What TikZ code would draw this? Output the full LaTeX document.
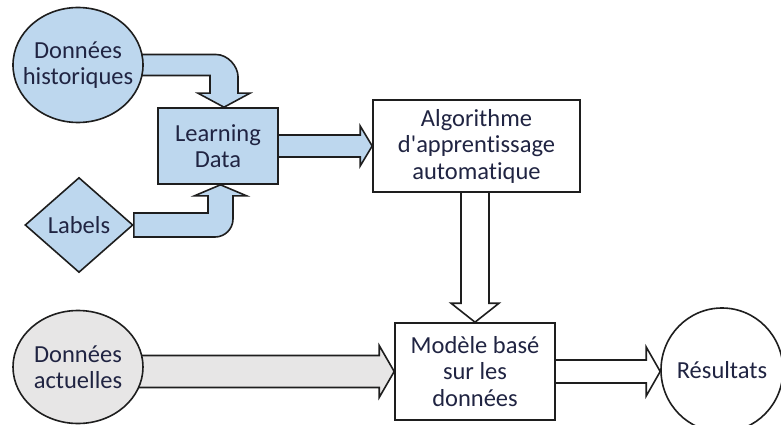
\documentclass[tikz,border=0pt]{standalone}
\usepackage{fontspec}
\setmainfont{Carlito}[Ligatures={CommonOff,TeXOff}]
\usetikzlibrary{shapes.geometric,calc,backgrounds}

\definecolor{blueF}{RGB}{189,215,238}
\definecolor{grayF}{RGB}{231,230,230}
\definecolor{lineC}{RGB}{30,30,30}
\definecolor{textC}{RGB}{32,36,66}

\tikzset{
  outline/.style={draw=lineC, line width=1.6pt},
  txt/.style={font=\fontsize{24.5}{26.5}\selectfont, text=textC, align=center},
  boxnode/.style={outline, txt, rectangle, inner sep=0pt},
  ovalnode/.style={outline, ellipse, inner sep=0pt},
  rhombnode/.style={outline, diamond, inner sep=0pt},
  blockarrow/.style={outline, line join=miter},
}

\begin{document}
\begin{tikzpicture}[x=1pt, y=-1pt]
  \useasboundingbox (0,0) rectangle (781,425);

  % sources
  \node[ovalnode, fill=blueF, minimum width=130pt, minimum height=115pt,
        label={[txt]center:Données\\historiques}] (hist) at (78,65) {};
  \node[rhombnode, fill=blueF, minimum width=108pt, minimum height=95pt,
        label={[txt]center:Labels}] (lab) at (79,225) {};
  \node[ovalnode, fill=grayF, minimum width=130pt, minimum height=113pt,
        label={[txt]center:Données\\actuelles}] (act) at (78,367) {};

  % processing boxes
  \node[boxnode, fill=blueF, minimum width=120pt, minimum height=76pt] (LD) at (218,146) {Learning\\Data};
  \node[boxnode, fill=white, minimum width=207pt, minimum height=92pt] (algo) at (476.5,146) {Algorithme\\d'apprentissage\\automatique};
  \node[boxnode, fill=white, minimum width=160pt, minimum height=97pt] (mod) at (475,371.5) {Modèle basé\\sur les\\données};

  % output
  \node[ovalnode, fill=white, minimum width=122pt, minimum height=124pt,
        label={[txt]center:Résultats}] (res) at (722,370) {};

  % tips and knees of the bent arrows
  \coordinate (htip) at ($(LD.north)+(6,0)$);
  \coordinate (hk) at (htip |- hist.center);
  \coordinate (ltip) at ($(LD.south)+(2.5,0)$);
  \coordinate (lk) at (ltip |- lab.east);

  \begin{pgfonlayer}{background}
    % historical data -> learning data
    \draw[blockarrow, fill=blueF]
      ($(hist.center)+(0,-10.5)$) -- ($(hk)+(-8,-10.5)$)
      .. controls ($(hk)+(4.1,-10.5)$) and ($(hk)+(14,1.6)$) .. ($(hk)+(14,11.5)$)
      -- ($(htip)+(14,-14)$) -- ($(htip)+(26,-14)$) -- (htip)
      -- ($(htip)+(-26,-14)$) -- ($(htip)+(-14,-14)$)
      -- ($(hk)+(-14,10.5)$) -- ($(hist.center)+(0,10.5)$) -- cycle;

    % learning data -> algorithm
    \draw[blockarrow, fill=blueF]
      ($(LD.center)+(0,-11)$) -- ($(algo.west)+(-12,-11)$) -- ($(algo.west)+(-12,-20)$)
      -- (algo.west) -- ($(algo.west)+(-12,20)$) -- ($(algo.west)+(-12,11)$)
      -- ($(LD.center)+(0,11)$) -- cycle;

    % algorithm -> model
    \draw[blockarrow, fill=white]
      ($(algo.center -| mod.north)+(-14,0)$) -- ($(mod.north)+(-14,-19)$) -- ($(mod.north)+(-24,-19)$)
      -- (mod.north) -- ($(mod.north)+(24,-19)$) -- ($(mod.north)+(14,-19)$)
      -- ($(algo.center -| mod.north)+(14,0)$) -- cycle;

    % current data -> model
    \draw[blockarrow, fill=grayF]
      ($(act.center |- mod.west)+(0,-16)$) -- ($(mod.west)+(-15,-16)$) -- ($(mod.west)+(-15,-26)$)
      -- (mod.west) -- ($(mod.west)+(-15,26)$) -- ($(mod.west)+(-15,16)$)
      -- ($(act.center |- mod.west)+(0,16)$) -- cycle;

    % model -> results
    \coordinate (rtip) at (res.west |- mod.east);
    \draw[blockarrow, fill=white]
      ($(mod.center)+(0,-11.5)$) -- ($(rtip)+(-14,-11.5)$) -- ($(rtip)+(-14,-24.5)$)
      -- (rtip) -- ($(rtip)+(-14,24.5)$) -- ($(rtip)+(-14,11.5)$)
      -- ($(mod.center)+(0,11.5)$) -- cycle;
  \end{pgfonlayer}

  % labels -> learning data
  \draw[blockarrow, fill=blueF]
    ($(lab.east)+(0,-12)$) -- ($(lk)+(-12.5,-12)$) -- ($(ltip)+(-12.5,11)$)
    -- ($(ltip)+(-26,11)$) -- (ltip) -- ($(ltip)+(26,11)$) -- ($(ltip)+(12.5,11)$)
    -- ($(lk)+(12.5,-6)$)
    .. controls ($(lk)+(12.5,3.9)$) and ($(lk)+(4.4,12)$) .. ($(lk)+(-5.5,12)$)
    -- ($(lab.east)+(0,12)$) -- cycle;
\end{tikzpicture}
\end{document}
